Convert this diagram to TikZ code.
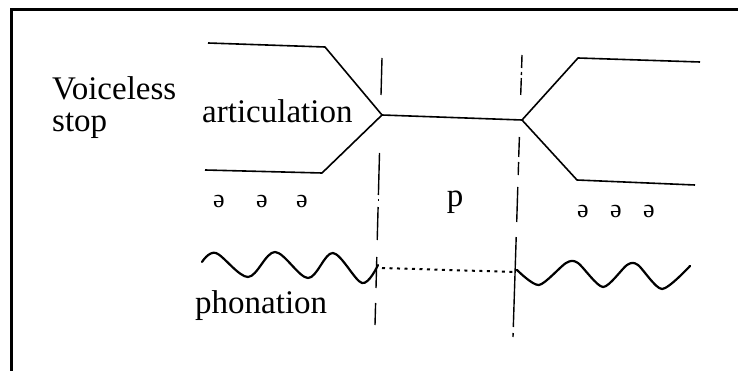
\documentclass[tikz,border=0pt]{standalone}
\usepackage{fontspec}
\setmainfont{Liberation Serif}
\begin{document}
\begin{tikzpicture}[x=1pt,y=-1pt,
  lbl/.style={inner sep=0pt,anchor=base west,font=\fontsize{33}{36}\selectfont},
  vow/.style={inner sep=0pt,anchor=base,font=\fontsize{26}{28}\selectfont},
  art/.style={line width=1.6pt,line join=round},
  bnd/.style={line width=1.4pt},
  wave/.style={line width=2.2pt,line join=round,line cap=round},
  frame/.style={line width=3pt}]
\useasboundingbox (0,0) rectangle (738,371);
% frame (top and left edges)
\coordinate (FTR) at (738,10);
\coordinate (FTL) at (11,10);
\coordinate (FBL) at (11,371);
\draw[frame] (FTR) -- (FTL) -- (FBL);
% labels
\node[lbl] (voiceless) at (52,100) {Voiceless};
\node[lbl] (stop) at (52,132) {stop};
\node[lbl] (articulation) at (202,123) {articulation};
\node[lbl] (phonation) at (195,313) {phonation};
\node[vow,font=\fontsize{33}{36}\selectfont] (p) at (455,207) {p};
\node[vow] (v1) at (219,208) {ə};
\node[vow] (v2) at (262,208) {ə};
\node[vow] (v3) at (302,208) {ə};
\node[vow] (v4) at (583,218) {ə};
\node[vow] (v5) at (616,218) {ə};
\node[vow] (v6) at (649,218) {ə};
% articulation lines
\coordinate (A) at (382,115);
\coordinate (B) at (522,120);
\coordinate (LU0) at (208,43);
\coordinate (LU1) at (325,47);
\coordinate (LL0) at (205,170);
\coordinate (LL1) at (322,173);
\coordinate (RU1) at (578,58);
\coordinate (RU2) at (700,62);
\coordinate (RL1) at (577,180);
\coordinate (RL2) at (695,185);
\draw[art] (LU0) -- (LU1) -- (A);
\draw[art] (LL0) -- (LL1) -- (A);
\draw[art] (A) -- (B);
\draw[art] (B) -- (RU1) -- (RU2);
\draw[art] (B) -- (RL1) -- (RL2);
% left boundary (broken solid)
\draw[bnd] (382,58) -- (381.0,95);
\draw[bnd] (379.5,153) -- (378.4,195);
\draw[bnd] (378.3,199) -- (378.3,201);
\draw[bnd] (378.1,207) -- (377.2,240);
\draw[bnd] (376.8,257) -- (376.0,288);
\draw[bnd] (375.6,303) -- (375,325);
% right boundary (dash-dot)
\draw[bnd] (522,55) -- (521.6,68);
\draw[bnd] (521.5,72) -- (521.4,75);
\draw[bnd] (521.3,78) -- (520.7,95);
\draw[bnd] (519.4,137) -- (518.7,157);
\draw[bnd] (518.6,162) -- (518.2,175);
\draw[bnd] (517.8,187) -- (516.7,222);
\draw[bnd] (516.2,237) -- (513.3,327);
\draw[bnd] (513.1,333) -- (513,337);
% phonation
\draw[wave] plot[smooth,tension=0.55] coordinates {(202,262) (216,253) (248,277) (275,252) (308,278) (333,253) (362,283) (378,265)};
\coordinate (D0) at (382,268);
\coordinate (D1) at (515,272);
\draw[line width=2pt,dash pattern=on 3pt off 4.5pt] (D0) -- (D1);
\draw[wave] plot[smooth,tension=0.45] coordinates {(517,270) (539,285) (566,263) (578,263) (603,287) (627,265) (638,265) (662,289) (690,266)};
\end{tikzpicture}
\end{document}
